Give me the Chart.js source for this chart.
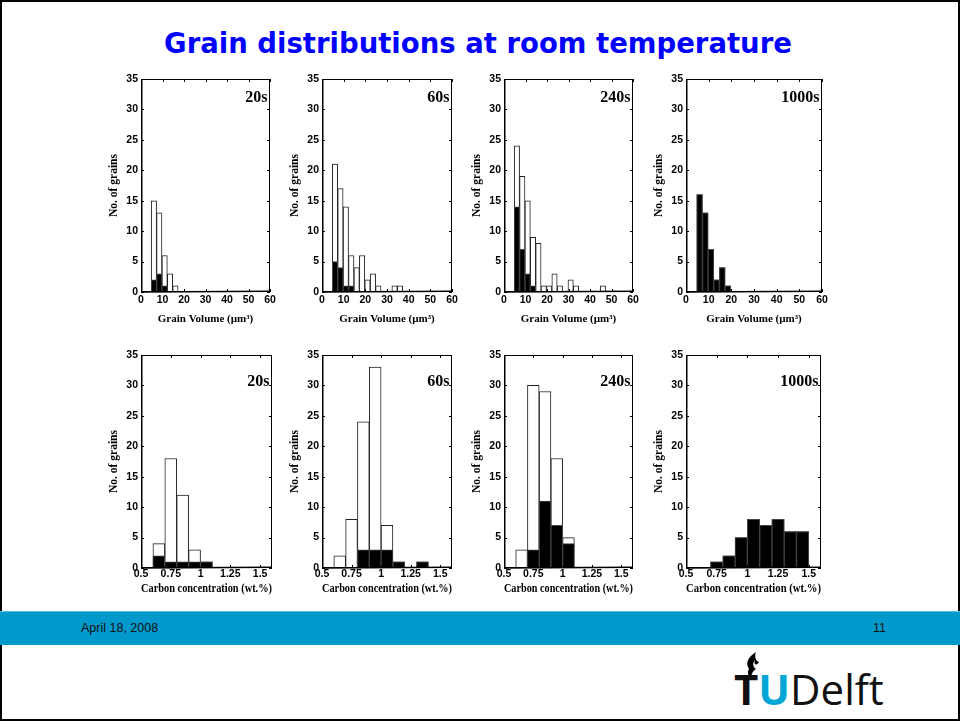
<!DOCTYPE html>
<html>
<head>
<meta charset="utf-8">
<script src="https://cdn.jsdelivr.net/npm/chart.js@4.4.1/dist/chart.umd.min.js"></script>
<style>
  body { margin: 0; width: 960px; height: 721px; background: #fff; position: relative; overflow: hidden; }
  #frame { position: absolute; left: 0; top: 0; width: 956px; height: 717px; border: 2px solid #000; }
  #title { position: absolute; left: 0; width: 956px; top: 27px; text-align: center;
           font: bold 27.5px "DejaVu Sans", sans-serif; color: #0000ff; }
  canvas { position: absolute; }
  #band { position: absolute; left: 0; top: 611px; width: 960px; height: 33px; background: #0099cc;
          border-top: 1px solid #5cc0e0; }
  #date, #page { position: absolute; top: 9px; font: 12.5px "Liberation Sans", Arial, sans-serif; color: #111; }
  #date { left: 81px; }
  #page { left: 873px; }
  #logo { position: absolute; left: 734px; top: 668px; font: 42px "Open Sans", sans-serif; line-height: 42px; color: #111; }
  #logo .t { font-weight: bold; }
  #logo .u { font-weight: bold; color: #00a6d6; }
  #flame { position: absolute; left: 742px; top: 652px; }
</style>
</head>
<body>
<div id="frame"></div>
<div id="title">Grain distributions at room temperature</div>

<canvas id="v20"></canvas>
<canvas id="v60"></canvas>
<canvas id="v240"></canvas>
<canvas id="v1000"></canvas>
<canvas id="c20"></canvas>
<canvas id="c60"></canvas>
<canvas id="c240"></canvas>
<canvas id="c1000"></canvas>

<div id="band"><span id="date">April 18, 2008</span><span id="page">11</span></div>
<svg id="flame" width="20" height="28" viewBox="0 0 20 28">
  <path d="M14 0 C6 5 3 11 7 17 C5 20 6 24 9 27 C9 22 11 19 14 17 C11 15 10 11 13 8 C11 13 15 14 17 10 C14 9 12 5 14 0 Z" fill="#000"/>
</svg>
<div id="logo"><span class="t">T</span><span class="u">U</span>Delft</div>

<script>
// ---- data ----
// grain volume histogram (bin centres in um^3)
const volumeBins = [6, 8.5, 11, 13.5, 16, 18.5, 21, 23.5, 26, 28.5, 31, 33.5, 36, 38.5, 41, 43.5, 46];
const volumeTicks = [0, 10, 20, 30, 40, 50, 60];

const vol20All    = [15, 13, 6, 3, 1, 0, 0, 0, 0, 0, 0, 0, 0, 0, 0, 0, 0];
const vol20Black  = [2, 3, 1, 0, 0, 0, 0, 0, 0, 0, 0, 0, 0, 0, 0, 0, 0];
const vol60All    = [21, 17, 14, 6, 4, 6, 2, 3, 1, 0, 0, 1, 1, 0, 0, 0, 0];
const vol60Black  = [5, 4, 1, 1, 0, 0, 0, 0, 0, 0, 0, 0, 0, 0, 0, 0, 0];
const vol240All   = [24, 19, 15, 9, 8, 1, 1, 3, 1, 0, 2, 1, 0, 0, 0, 0, 1];
const vol240Black = [14, 7, 3, 1, 0, 0, 0, 0, 0, 0, 0, 0, 0, 0, 0, 0, 0];
const vol1000All  = [16, 13, 7, 2, 4, 1, 0, 0, 0, 0, 0, 0, 0, 0, 0, 0, 0];
const vol1000Black= [16, 13, 7, 2, 4, 1, 0, 0, 0, 0, 0, 0, 0, 0, 0, 0, 0];

// carbon concentration histogram (bin centres in wt.%)
const carbonBins = [0.65, 0.75, 0.85, 0.95, 1.05, 1.15, 1.25, 1.35, 1.45];
const carbonTicks = [0.5, 0.75, 1, 1.25, 1.5];

const c20All    = [4, 18, 12, 3, 1, 0, 0, 0, 0];
const c20Black  = [2, 1, 1, 1, 1, 0, 0, 0, 0];
const c60All    = [2, 8, 24, 33, 7, 1, 0, 1, 0];
const c60Black  = [0, 0, 3, 3, 3, 1, 0, 1, 0];
const c240All   = [3, 30, 29, 18, 5, 0, 0, 0, 0];
const c240Black = [0, 3, 11, 7, 4, 0, 0, 0, 0];
const c1000All  = [0, 1, 2, 5, 8, 7, 8, 6, 6];
const c1000Black= [0, 1, 2, 5, 8, 7, 8, 6, 6];

const countTicks = [0, 5, 10, 15, 20, 25, 30, 35];

// ---- layout of the eight panels (plot area in page px) ----
const Y_AXIS_W = 42, X_AXIS_H = 36, PAD_T = 10, PAD_R = 10, PLOT_H = 213;
const colLeft = [141, 322, 504, 686];
const topWidths = [129, 130, 129, 136];
const bottomWidths = [131, 130, 129, 135];

// frame with inward tick marks, like the matlab box
const boxTicks = {
  id: 'boxTicks',
  afterDatasetsDraw(chart) {
    const { ctx, chartArea: { left, top, right, bottom }, scales: { x, y } } = chart;
    ctx.save();
    ctx.strokeStyle = '#000';
    ctx.lineWidth = 1;
    ctx.strokeRect(left + 0.5, top + 0.5, right - left - 1, bottom - top - 1);
    ctx.beginPath();
    x.ticks.forEach(t => {
      const px = Math.round(x.getPixelForValue(t.value)) + 0.5;
      ctx.moveTo(px, top); ctx.lineTo(px, top + 3);
      ctx.moveTo(px, bottom); ctx.lineTo(px, bottom - 3);
    });
    y.ticks.forEach(t => {
      const py = Math.round(y.getPixelForValue(t.value)) + 0.5;
      ctx.moveTo(left, py); ctx.lineTo(left + 3, py);
      ctx.moveTo(right, py); ctx.lineTo(right - 3, py);
    });
    ctx.stroke();
    // thicker left & bottom axis lines
    ctx.lineWidth = 1.5;
    ctx.beginPath();
    ctx.moveTo(left + 0.75, top); ctx.lineTo(left + 0.75, bottom);
    ctx.lineTo(right, bottom - 0.75);
    ctx.stroke();
    ctx.restore();
  }
};

// the "20s" style label in the upper right corner
const panelLabel = {
  id: 'panelLabel',
  afterDraw(chart, args, opts) {
    const { ctx, chartArea: { top, right } } = chart;
    ctx.save();
    ctx.font = 'bold 16px "Liberation Serif", "Times New Roman", serif';
    ctx.fillStyle = '#000';
    ctx.textAlign = 'right';
    ctx.textBaseline = 'middle';
    ctx.fillText(opts.text, right - 2.5, top + opts.dy);
    ctx.restore();
  }
};

function makePanel(id, col, row, bins, all, black, xTicks, xMax, xTitle, label) {
  const w = row === 0 ? topWidths[col] : bottomWidths[col];
  const plotTop = row === 0 ? 79 : 355;
  const canvas = document.getElementById(id);
  canvas.width = Y_AXIS_W + w + PAD_R;
  canvas.height = PAD_T + PLOT_H + X_AXIS_H;
  canvas.style.left = (colLeft[col] - Y_AXIS_W) + 'px';
  canvas.style.top = (plotTop - PAD_T) + 'px';

  const tickFont = { family: '"Liberation Sans", Arial, sans-serif', size: 10.5, weight: 'bold' };
  const titleFont = { family: '"Liberation Serif", "Times New Roman", serif', size: row === 0 ? 11 : 12.5, weight: 'bold' };

  return new Chart(canvas, {
    type: 'bar',
    data: {
      datasets: [
        {
          label: 'all grains',
          data: bins.map((b, i) => ({ x: b, y: all[i] })),
          backgroundColor: '#fff',
          borderColor: '#222',
          borderWidth: 1,
          borderSkipped: false,
          grouped: false,
          barPercentage: 1,
          categoryPercentage: 1,
          order: 1
        },
        {
          label: 'black grains',
          data: bins.map((b, i) => ({ x: b, y: black[i] })),
          backgroundColor: '#000',
          borderColor: '#444',
          borderWidth: 1,
          borderSkipped: false,
          grouped: false,
          barPercentage: 1,
          categoryPercentage: 1,
          order: 0
        }
      ]
    },
    options: {
      responsive: false,
      animation: false,
      layout: { padding: { left: 0, top: PAD_T, right: PAD_R, bottom: 0 } },
      scales: {
        x: {
          type: 'linear',
          min: xTicks[0],
          max: xMax,
          offset: false,
          grid: { display: false, drawTicks: false },
          border: { display: false },
          afterBuildTicks: s => { s.ticks = xTicks.map(v => ({ value: v })); },
          afterFit: s => { s.height = X_AXIS_H; s.paddingLeft = 0; s.paddingRight = 0; },
          ticks: {
            color: '#000', font: tickFont, maxRotation: 0, autoSkip: false,
            padding: row === 0 ? 2 : 0,
            callback: v => String(v)
          },
          title: {
            display: true, text: xTitle, color: '#000', font: titleFont,
            padding: { top: 0, bottom: row === 0 ? 2 : 8 }
          }
        },
        y: {
          min: 0,
          max: 35,
          grid: { display: false, drawTicks: false },
          border: { display: false },
          afterBuildTicks: s => { s.ticks = countTicks.map(v => ({ value: v })); },
          afterFit: s => { s.width = Y_AXIS_W; s.paddingTop = 0; s.paddingBottom = 0; },
          ticks: { color: '#000', font: tickFont, padding: 3 },
          title: {
            display: true, text: 'No. of grains', color: '#000',
            font: { family: '"Liberation Serif", "Times New Roman", serif', size: 11.5, weight: 'bold' },
            padding: { top: 8, bottom: 0 }
          }
        }
      },
      plugins: {
        legend: { display: false },
        tooltip: { enabled: false },
        panelLabel: { text: label, dy: row === 0 ? 19 : 27 }
      }
    },
    plugins: [boxTicks, panelLabel]
  });
}

const volTitle = 'Grain Volume (\u00b5m\u00b3)';
const carbonTitle = 'Carbon concentration (wt.%)';

makePanel('v20', 0, 0, volumeBins, vol20All, vol20Black, volumeTicks, 60, volTitle, '20s');
makePanel('v60', 1, 0, volumeBins, vol60All, vol60Black, volumeTicks, 60, volTitle, '60s');
makePanel('v240', 2, 0, volumeBins, vol240All, vol240Black, volumeTicks, 60, volTitle, '240s');
makePanel('v1000', 3, 0, volumeBins, vol1000All, vol1000Black, volumeTicks, 60, volTitle, '1000s');

makePanel('c20', 0, 1, carbonBins, c20All, c20Black, carbonTicks, 1.6, carbonTitle, '20s');
makePanel('c60', 1, 1, carbonBins, c60All, c60Black, carbonTicks, 1.6, carbonTitle, '60s');
makePanel('c240', 2, 1, carbonBins, c240All, c240Black, carbonTicks, 1.6, carbonTitle, '240s');
makePanel('c1000', 3, 1, carbonBins, c1000All, c1000Black, carbonTicks, 1.6, carbonTitle, '1000s');
</script>
</body>
</html>
